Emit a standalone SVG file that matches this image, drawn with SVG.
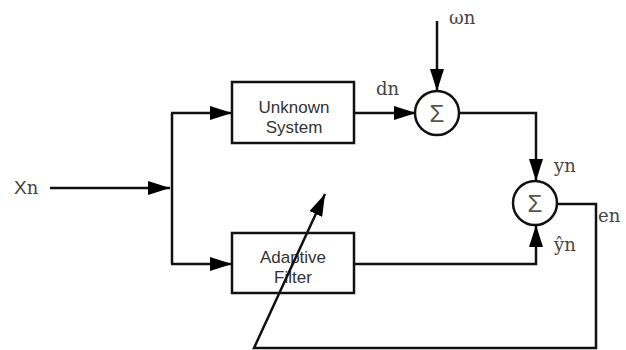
<svg xmlns="http://www.w3.org/2000/svg" width="626" height="350" viewBox="0 0 626 350">
<defs>
<marker id="ah" markerUnits="userSpaceOnUse" markerWidth="22" markerHeight="14" refX="22" refY="7" orient="auto" viewBox="0 0 22 14">
<path d="M0,0 L22,7 L0,14 z" fill="#000"/>
</marker>
</defs>
<style>
.box{fill:#fff;stroke:#111;stroke-width:2.5}
.sum{fill:#fff;stroke:#111;stroke-width:2.5}
.wire{fill:none;stroke:#111;stroke-width:2.5}
.arr{marker-end:url(#ah)}
.btxt{font-family:"Liberation Sans",Arial,sans-serif;font-size:17px;fill:#333;text-anchor:middle}
.sig{font-family:"Liberation Sans",Arial,sans-serif;font-size:24px;fill:#555;text-anchor:middle}
.lbl{font-family:"DejaVu Serif","Liberation Serif",serif;font-size:18px;fill:#444}
</style>
<rect width="626" height="350" fill="#fff"/>
<g id="unknown-system">
<rect class="box" x="232" y="82" width="122" height="61"/>
<text class="btxt" x="294" y="113">Unknown</text>
<text class="btxt" x="294" y="133">System</text>
</g>
<g id="adaptive-filter">
<rect class="box" x="232" y="233" width="122" height="60"/>
<text class="btxt" x="293" y="263">Adaptive</text>
<text class="btxt" x="293" y="283">Filter</text>
</g>
<g id="sum1">
<circle class="sum" cx="437" cy="113" r="22"/>
<text class="sig" x="437" y="122">Σ</text>
</g>
<g id="sum2">
<circle class="sum" cx="535" cy="203" r="22"/>
<text class="sig" x="535" y="212">Σ</text>
</g>
<g id="connectors">
<path class="wire arr" d="M50,188 H170"/>
<path class="wire" d="M172,113 V264"/>
<path class="wire arr" d="M171,113 H232"/>
<path class="wire arr" d="M171,264 H232"/>
<path class="wire arr" d="M354,113 H416"/>
<path class="wire arr" d="M437,21 V91"/>
<path class="wire arr" d="M459,113 H536 V181"/>
<path class="wire arr" d="M354,264 H536 V225"/>
<path class="wire arr" d="M557,204 H596 V348 H254 L325,194"/>
</g>
<g id="labels">
<text x="14" y="194" class="lbl"><tspan font-family="Liberation Sans, Arial, sans-serif" font-size="19">X</tspan>n</text>
<text class="lbl" x="449" y="24">ωn</text>
<text class="lbl" x="376" y="95">dn</text>
<text class="lbl" x="554" y="172">yn</text>
<text class="lbl" x="554" y="251">ŷn</text>
<text class="lbl" x="598" y="222">en</text>
</g>
</svg>
